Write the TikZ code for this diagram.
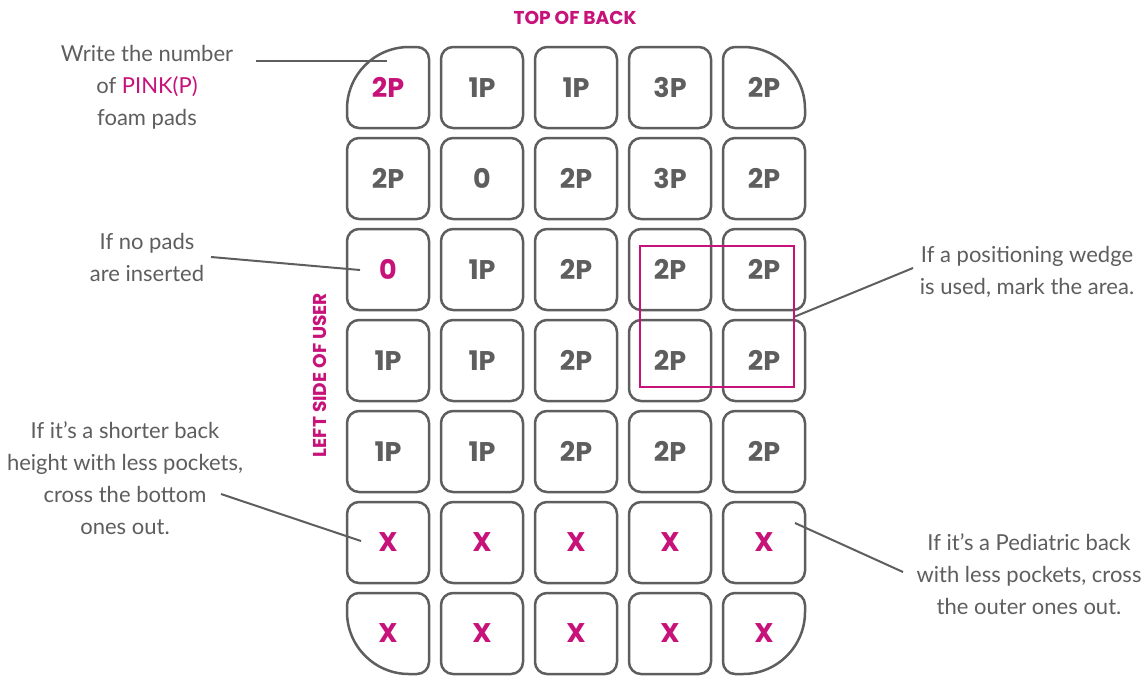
\documentclass[tikz,border=0pt]{standalone}
\usepackage{fontspec}
\setmainfont{Poppins}
\newfontfamily\notefont{Lato}
\usepackage{tikz}
\usetikzlibrary{calc}
\definecolor{padgray}{HTML}{5E5E5E}
\definecolor{padpink}{HTML}{C7127A}
\newcommand{\pk}[1]{\textcolor{padpink}{#1}}
% outline of one pocket: node, then radii NE, NW, SW, SE
\newcommand{\padoutline}[5]{%
  \draw[padline] ($(#1.north east)+(-#2,0)$) arc[start angle=90,end angle=0,radius=#2]
    -- ($(#1.south east)+(0,#5)$) arc[start angle=0,end angle=-90,radius=#5]
    -- ($(#1.south west)+(#4,0)$) arc[start angle=270,end angle=180,radius=#4]
    -- ($(#1.north west)+(0,-#3)$) arc[start angle=180,end angle=90,radius=#3]
    -- cycle;}

\begin{document}
\begin{tikzpicture}[x=0.5pt,y=0.5pt,
  pad/.style={minimum width=41pt,minimum height=40.5pt,inner sep=0pt,outer sep=0pt,
    text=padgray,font=\fontsize{13.5}{14}\selectfont\bfseries},
  padline/.style={draw=padgray,line width=1.25pt},
  note/.style={align=center,text=padgray,font=\notefont\fontsize{11}{16}\selectfont},
  leader/.style={draw=padgray,line width=1pt},
  tag/.style={text=padpink,font=\fontsize{9.3}{10}\selectfont\bfseries}]
  \path[use as bounding box,fill=white] (0,0) rectangle (1143,-675);

  % pockets
  \foreach \row/\vals in {1/{\pk{2P},1P,1P,3P,2P},2/{2P,0,2P,3P,2P},3/{\pk{0},1P,2P,2P,2P},
      4/{1P,1P,2P,2P,2P},5/{1P,1P,2P,2P,2P},6/{\pk{X},\pk{X},\pk{X},\pk{X},\pk{X}},
      7/{\pk{X},\pk{X},\pk{X},\pk{X},\pk{X}}} {
    \foreach \v [count=\col] in \vals {
      \node[pad] (pad-\row-\col) at ({388+94*(\col-1)},{-87.5-91*(\row-1)}) {\v};
      \def\rne{6pt}\def\rnw{6pt}\def\rsw{6pt}\def\rse{6pt}
      \ifnum\row=1
        \ifnum\col=1 \def\rnw{31pt}\fi
        \ifnum\col=5 \def\rne{31pt}\fi
      \fi
      \ifnum\row=7
        \ifnum\col=1 \def\rsw{31pt}\fi
        \ifnum\col=5 \def\rse{31pt}\fi
      \fi
      \padoutline{pad-\row-\col}{\rne}{\rnw}{\rsw}{\rse}
    }
  }

  \node[draw=padpink,line width=1pt,minimum width=77pt,minimum height=70.5pt,inner sep=0pt] (wedge) at (717,-316.5) {};

  \node[tag] (top) at (575,-18) {TOP OF BACK};
  \node[tag,rotate=90] (left) at (320,-375) {LEFT SIDE OF USER};

  % notes
  \node[note] (note-write) at (147,-87) {Write the number\\of \pk{PINK(P)}\\foam pads};
  \node[note] (note-empty) at (147,-257.5) {If no pads\\are inserted};
  \node[note] (note-short) at (125,-478) {If it’s a shorter back\\height with less pockets,\\cross the bottom\\ones out.};
  \node[note] (note-wedge) at (1027,-272) {If a positioning wedge\\is used, mark the area.};
  \node[note] (note-child) at (1029,-574) {If it’s a Pediatric back\\with less pockets, cross\\the outer ones out.};

  \coordinate (write-from) at (256,-61);
  \coordinate (write-to) at (387,-61);
  \coordinate (empty-from) at (211,-257);
  \coordinate (empty-to) at (360,-270);
  \coordinate (short-from) at (221,-494);
  \coordinate (short-to) at (361,-541);
  \coordinate (wedge-from) at (913,-268);
  \coordinate (child-from) at (903,-572);
  \coordinate (child-to) at (795,-523);

  \draw[leader] (write-from) -- (write-to);
  \draw[leader] (empty-from) -- (empty-to);
  \draw[leader] (short-from) -- (short-to);
  \draw[leader] (wedge-from) -- (wedge.east);
  \draw[leader] (child-from) -- (child-to);
\end{tikzpicture}
\end{document}
